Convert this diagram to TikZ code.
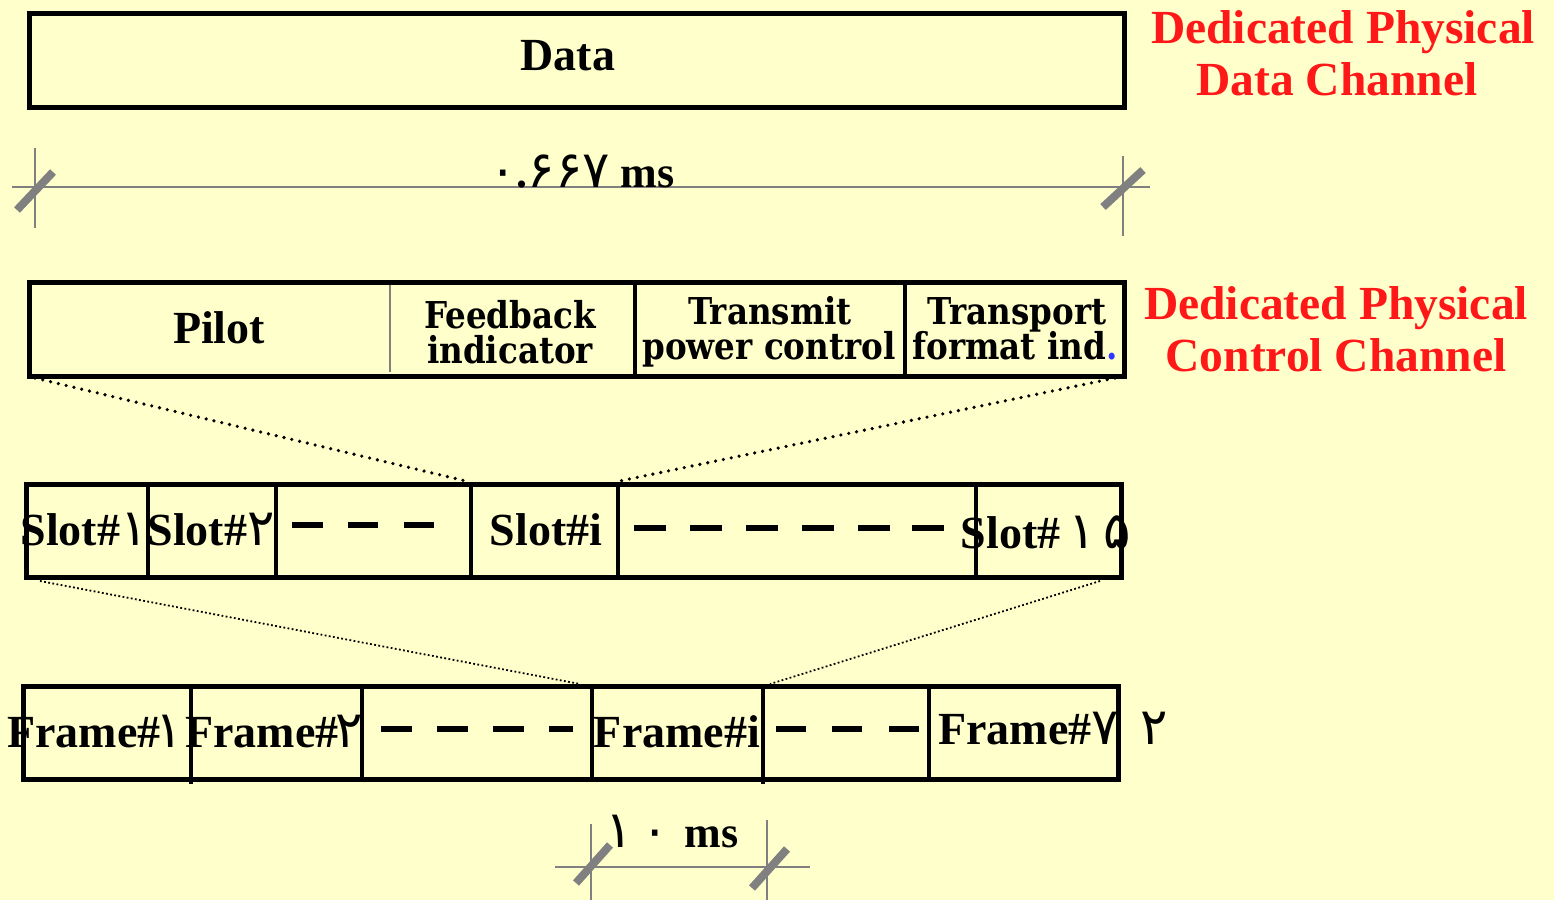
\documentclass[tikz,border=0pt]{standalone}
\usepackage{fontspec}
\setmainfont{Liberation Serif}
\newfontfamily\fafont{DejaVu Sans}
\newfontfamily\centfont[FakeStretch=0.88]{DejaVu Serif}
\definecolor{paper}{RGB}{255,255,204}
\definecolor{chanred}{RGB}{255,24,24}
\definecolor{dimgray}{RGB}{128,128,128}
\newcommand{\fd}[1]{{\fafont\mdseries\fontsize{51}{51}\selectfont #1}}

\begin{document}
\begin{tikzpicture}[x=1pt,y=-1pt,
  box/.style={draw=black, line width=5pt, inner sep=0pt, minimum width=1095pt},
  divider/.style={line width=4.5pt},
  thindiv/.style={dimgray, line width=1.6pt},
  lbl/.style={font=\bfseries\fontsize{46}{48}\selectfont, inner sep=0pt, anchor=base},
  redlbl/.style={lbl, font=\bfseries\fontsize{47.5}{49}\selectfont, text=chanred},
  fieldlbl/.style={font=\bfseries\centfont\fontsize{37}{38}\selectfont, inner sep=0pt, anchor=base},
  gapdash/.style={line width=6pt},
  dimline/.style={dimgray, line width=2pt},
  dimslash/.style={dimgray, line width=8pt},
  zoomcoarse/.style={line width=3.6pt, line cap=round, dash pattern=on 0pt off 8pt},
  zoomfine/.style={line width=1.8pt, dash pattern=on 1.8pt off 2.4pt}
]
\fill[paper] (0,0) rectangle (1554,900);
\useasboundingbox (0,0) rectangle (1554,900);

% ---------- data channel ----------
\node[box, minimum height=94pt] (data) at (576.5,60) {};
\node[lbl] (datatxt) at (568,70) {Data};
\node[redlbl] (dpdch1) at (1343,43) {Dedicated Physical};
\node[redlbl] (dpdch2) at (1337,95) {Data Channel};

% ---------- slot duration ----------
\draw[dimline] (12,187) -- (1150,187);
\draw[dimline] (35,148) -- (35,228);
\draw[dimline] (1123,156) -- (1123,236);
\draw[dimslash] (17,210) -- (53,172);
\draw[dimslash] (1103,207) -- (1143,170);
\node[lbl, font=\bfseries\fontsize{44}{46}\selectfont] (slotdur) at (582,187) {\fd{۰}.\fd{۶۶۷} ms};

% ---------- control channel ----------
\node[box, minimum height=94pt] (ctrl) at (576.5,329) {};
\draw[thindiv] (390,285) -- (390,372);
\draw[divider] (635,282) -- (635,376);
\draw[divider] (905,282) -- (905,376);
\node[lbl] (pilot) at (219,343) {Pilot};
\node[fieldlbl] (fb1) at (510,328) {Feedback};
\node[fieldlbl] (fb2) at (510,363) {indicator};
\node[fieldlbl] (tpc1) at (770,324) {Transmit};
\node[fieldlbl] (tpc2) at (769,359) {power control};
\node[fieldlbl] (tfi1) at (1017,324) {Transport};
\node[fieldlbl] (tfi2) at (1015,359) {format ind{\color{blue!80}.}};
\node[redlbl] (dpcch1) at (1336,319) {Dedicated Physical};
\node[redlbl] (dpcch2) at (1336,371) {Control Channel};

% ---------- slots ----------
\node[box, minimum height=93pt] (slots) at (573.5,530.5) {};
\foreach \x in {148,276,471,618,976} \draw[divider] (\x,484) -- (\x,577);
\node[lbl] (s1) at (84,545) {Slot\#\fd{۱}};
\node[lbl] (s2) at (211,545) {Slot\#\fd{۲}};
\node[lbl] (si) at (546,545) {Slot\#i};
\node[lbl] (s15) at (1046,548) {Slot\#\,\fd{۱\,۵}};
\foreach \a/\b in {292/323,348/378,404/434} \draw[gapdash] (\a,525) -- (\b,525);
\foreach \a/\b in {634/666,690/722,746/778,802/834,858/890,912/944} \draw[gapdash] (\a,528) -- (\b,528);

% ---------- frames ----------
\node[box, minimum height=93pt] (frames) at (570.5,732.5) {};
\draw[divider] (191,688) -- (191,784);
\draw[divider] (362,686) -- (362,779);
\draw[divider] (592,686) -- (592,779);
\draw[divider] (763,688) -- (763,784);
\draw[divider] (929,686) -- (929,779);
\node[lbl] (f1) at (95,747) {Frame\#\kern-5pt\fd{۱}};
\node[lbl] (f2) at (274,747) {Frame\#\kern-3pt\fd{۲}};
\node[lbl] (fi) at (677,747) {Frame\#i};
\node[lbl, anchor=base west] (f72) at (938,744) {Frame\#\fd{۷\hspace{22pt}۲}};
\foreach \a/\b in {381/412,437/468,493/524,549/573,776/806,832/862,889/919} \draw[gapdash] (\a,729) -- (\b,729);

% ---------- frame duration ----------
\draw[dimline] (555,867) -- (810,867);
\draw[dimline] (591,824) -- (591,900);
\draw[dimline] (767,820) -- (767,900);
\draw[dimslash] (576,883) -- (610,845);
\draw[dimslash] (752,888) -- (787,849);
\node[lbl, font=\bfseries\fontsize{44}{46}\selectfont] (framedur) at (672,847) {\fd{۱\hspace{8pt}۰}\hspace{16pt}ms};

% ---------- zoom lines ----------
\coordinate (ctrlL) at (35,378);
\coordinate (ctrlR) at (1115,378);
\coordinate (slotiL) at (470,482);
\coordinate (slotiR) at (615,482);
\draw[zoomcoarse] (ctrlL) -- (slotiL);
\draw[zoomcoarse] (ctrlR) -- (slotiR);
\coordinate (slotsL) at (40,581);
\coordinate (slotsR) at (1100,581);
\coordinate (frameiL) at (580,684);
\coordinate (frameiR) at (770,684);
\draw[zoomfine] (slotsL) -- (frameiL);
\draw[zoomfine] (slotsR) -- (frameiR);
\end{tikzpicture}
\end{document}
